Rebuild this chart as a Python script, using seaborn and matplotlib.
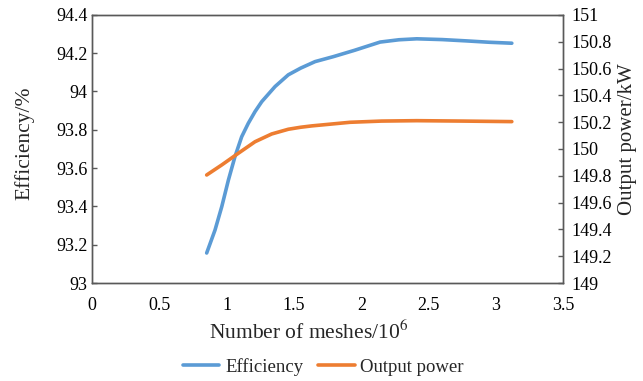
import numpy as np
import pandas as pd
import matplotlib
matplotlib.use("Agg")
import matplotlib.pyplot as plt
import seaborn as sns

# ── Data ─────────────────────────────────────────────────────────────────────
meshes_eff = [0.852, 0.914, 0.964, 1.013, 1.062, 1.112, 1.161, 1.211, 1.261,
              1.36, 1.458, 1.55, 1.657, 1.793, 1.95, 2.14, 2.28, 2.412, 2.6,
              2.784, 2.95, 3.118]
efficiency = [93.157, 93.277, 93.399, 93.537, 93.66, 93.764, 93.834, 93.895, 93.947,
              94.026, 94.087, 94.122, 94.156, 94.182, 94.215, 94.258, 94.27, 94.275, 94.271,
              94.264, 94.257, 94.252]

meshes_pow = [0.852, 0.964, 1.087, 1.211, 1.335, 1.458, 1.55, 1.632, 1.917,
              2.15, 2.412, 2.75, 3.118]
output_power = [149.806, 149.881, 149.968, 150.054, 150.112, 150.147, 150.162, 150.172, 150.199,
                150.208, 150.211, 150.208, 150.204]

eff_ticks = [93, 93.2, 93.4, 93.6, 93.8, 94, 94.2, 94.4]
pow_ticks = [149, 149.2, 149.4, 149.6, 149.8, 150, 150.2, 150.4, 150.6, 150.8, 151]
x_ticks = [0, 0.5, 1, 1.5, 2, 2.5, 3, 3.5]

BLUE = "#5B9BD5"
ORANGE = "#ED7D31"
SPINE = "#595959"

df_eff = pd.DataFrame({"meshes": meshes_eff, "value": efficiency})
df_pow = pd.DataFrame({"meshes": meshes_pow, "value": output_power})

sns.set_theme(style="white")
plt.rcParams["font.family"] = ["Liberation Serif", "DejaVu Serif"]
plt.rcParams["mathtext.fontset"] = "stix"

fig = plt.figure(figsize=(6.43, 3.81), dpi=100)
ax = fig.add_axes([0.143, 0.257, 0.733, 0.704])
ax2 = ax.twinx()

sns.lineplot(data=df_eff, x="meshes", y="value", color=BLUE, lw=2.6,
             ax=ax, label="Efficiency", legend=False)
sns.lineplot(data=df_pow, x="meshes", y="value", color=ORANGE, lw=2.6,
             ax=ax2, label="Output power", legend=False)

ax.set_xlim(0, 3.5)
ax.set_ylim(93, 94.4)
ax2.set_ylim(149, 151)
ax.set_xticks(x_ticks)
ax.set_xticklabels([f"{t:g}" for t in x_ticks])
ax.set_yticks(eff_ticks)
ax.set_yticklabels([f"{t:g}" for t in eff_ticks])
ax2.set_yticks(pow_ticks)
ax2.set_yticklabels([f"{t:g}" for t in pow_ticks])

for a in (ax, ax2):
    for s in a.spines.values():
        s.set_color(SPINE)
        s.set_linewidth(1.0)
    a.tick_params(direction="in", length=3.5, width=1.0, color=SPINE,
                  labelsize=13, labelcolor="black")
ax.tick_params(axis="x", pad=10)
ax.tick_params(axis="y", pad=3)
ax2.tick_params(axis="y", pad=6)

ax.set_xlabel("Number of meshes/10$^6$", fontsize=15.5)
ax.xaxis.set_label_coords(0.459, -0.14)
ax.set_ylabel("Efficiency/%", fontsize=15.5)
ax.yaxis.set_label_coords(-0.121, 0.52)
ax2.set_ylabel("Output power/kW", fontsize=15)
ax2.yaxis.set_label_coords(1.117, 0.537)

h1, l1 = ax.get_legend_handles_labels()
h2, l2 = ax2.get_legend_handles_labels()
fig.legend(h1 + h2, l1 + l2, loc="center", bbox_to_anchor=(0.503, 0.037),
           ncol=2, frameon=False, fontsize=13.5, handlelength=1.95,
           columnspacing=0.8, handletextpad=0.3, borderpad=0)

fig.savefig("out.png", dpi=100)
